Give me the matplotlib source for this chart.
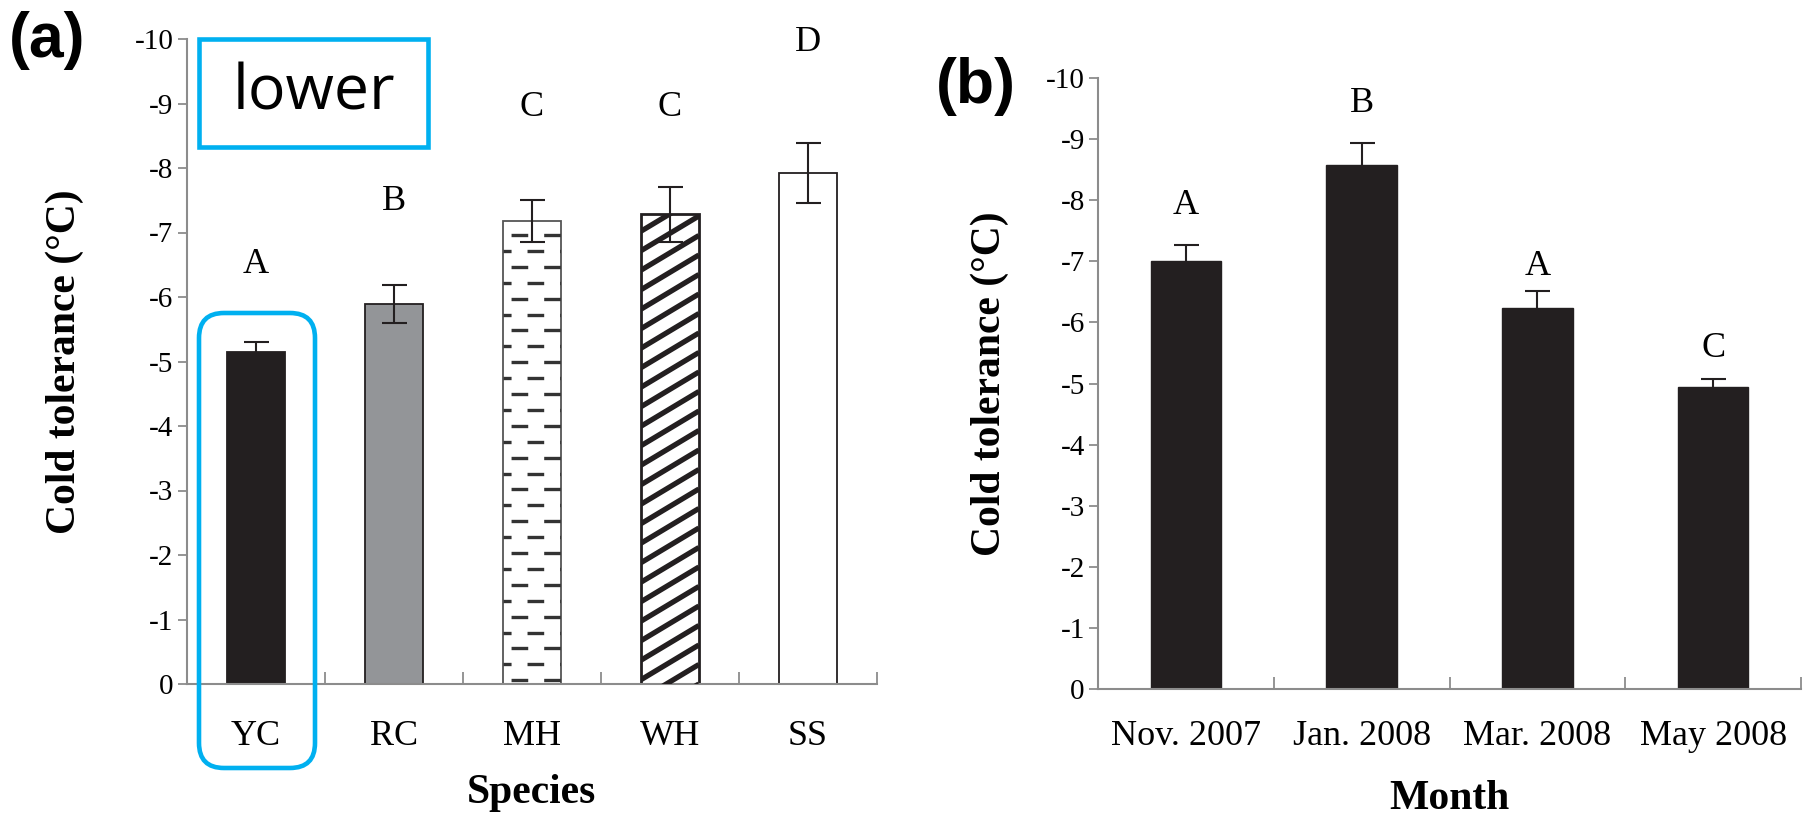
import numpy as np
import matplotlib
matplotlib.use("Agg")
import matplotlib.pyplot as plt
from matplotlib.patches import Rectangle, FancyBboxPatch

# (a) cold tolerance by species
species = ["YC", "RC", "MH", "WH", "SS"]
species_tol = [-5.15, -5.89, -7.18, -7.28, -7.92]
species_err = [0.16, 0.30, 0.33, 0.42, 0.46]
species_letters = ["A", "B", "C", "C", "D"]
species_letter_y = [-6.5, -7.48, -8.94, -8.94, -9.95]

# (b) cold tolerance by month
months = ["Nov. 2007", "Jan. 2008", "Mar. 2008", "May 2008"]
month_tol = [-7.0, -8.57, -6.23, -4.94]
month_err = [0.27, 0.36, 0.29, 0.14]
month_letters = ["A", "B", "A", "C"]
month_letter_y = [-7.92, -9.58, -6.91, -5.57]

W, H = 1816, 818
SERIF = "Liberation Serif"
DARK = "#231f20"
AXC = "#8c8c8c"
CYAN = "#00b0f0"

plt.rcParams["axes.unicode_minus"] = False
plt.rcParams["lines.scale_dashes"] = False

fig = plt.figure(figsize=(W / 100, H / 100), dpi=100)
ax_a = fig.add_axes([186.5 / W, 1 - 684 / H, 690.5 / W, 645 / H])
ax_b = fig.add_axes([1098 / W, 1 - 689 / H, 703 / W, 611 / H])


def style_axes(ax, labels, xlabel, xpad, xlab_y, ylab_x):
    n = len(labels)
    ax.set_xlim(-0.5, n - 0.5)
    ax.set_ylim(0, -10)
    yt = list(range(0, -11, -1))
    ax.set_yticks(yt)
    ax.set_yticklabels([str(t) for t in yt], fontsize=21, family=SERIF)
    ax.set_xticks(range(n))
    ax.set_xticklabels(labels, fontsize=26, family=SERIF)
    ax.set_xticks(np.arange(n + 1) - 0.5, minor=True)
    ax.tick_params(axis="x", which="major", length=0, pad=xpad)
    ax.tick_params(axis="x", which="minor", direction="in", length=9, width=1.3, color=AXC)
    ax.tick_params(axis="y", direction="out", length=6.5, width=1.3, color=AXC, pad=3)
    for s in ["top", "right"]:
        ax.spines[s].set_visible(False)
    for s in ["left", "bottom"]:
        ax.spines[s].set_color(AXC)
        ax.spines[s].set_linewidth(1.5)
    ax.set_xlabel(xlabel, fontsize=30, family=SERIF, weight="bold")
    ax.xaxis.set_label_coords(0.5, xlab_y)
    ax.xaxis.label.set_va("center")
    ax.set_ylabel("Cold tolerance (°C)", fontsize=30, family=SERIF, weight="bold")
    ax.yaxis.set_label_coords(ylab_x, 0.5)
    ax.yaxis.label.set_va("center")
    ax.yaxis.label.set_ha("center")


# ---- panel (a)
xa = np.arange(len(species))
faces = [DARK, "#939598", "white", "white", "white"]
edges = [DARK, DARK, "#555555", DARK, DARK]
bars = ax_a.bar(xa, species_tol, width=0.42, color=faces, edgecolor=edges, linewidth=1.3, zorder=2)

px_x = 690.5 / len(species)
px_y = 645 / 10

# MH: rows of short dashes
mh = bars[2]
x0, w = mh.get_x(), mh.get_width()
step = 15.9 / px_y
rows = np.arange(species_tol[2] + 0.22, -0.02, step)
for k, y in enumerate(rows):
    off = 17.7 if k % 2 == 0 else 6.2
    ln = ax_a.hlines(y, x0, x0 + w, colors="#333333", linewidth=2.4,
                     linestyles=[(off, (12, 11.5))], zorder=3)
    ln.set_clip_path(mh)

# WH: diagonal stripes
wh = bars[3]
x0, w = wh.get_x(), wh.get_width()
slope = 0.6 * px_x / px_y
gap = 19.5 / px_y
for c in np.arange(-slope * w, -species_tol[3] + gap, gap):
    ln, = ax_a.plot([x0, x0 + w], [-c, -(c + slope * w)], color=DARK, linewidth=3.8,
                    solid_capstyle="butt", zorder=3)
    ln.set_clip_path(wh)
wh.set_linewidth(2)

ax_a.errorbar(xa, species_tol, yerr=species_err, fmt="none", ecolor=DARK,
              elinewidth=1.5, capsize=9, capthick=1.5, zorder=4)
for i, (t, y) in enumerate(zip(species_letters, species_letter_y)):
    ax_a.text(i, y, t, ha="center", va="center", fontsize=26, family=SERIF)

style_axes(ax_a, species, "Species", 26, -0.169, -0.176)

# ---- panel (b)
xb = np.arange(len(months))
ax_b.bar(xb, month_tol, width=0.4, color=DARK, edgecolor=DARK, linewidth=1, zorder=2)
ax_b.errorbar(xb, month_tol, yerr=month_err, fmt="none", ecolor=DARK,
              elinewidth=1.5, capsize=9, capthick=1.5, zorder=4)
for i, (t, y) in enumerate(zip(month_letters, month_letter_y)):
    ax_b.text(i, y, t, ha="center", va="center", fontsize=26, family=SERIF)

style_axes(ax_b, months, "Month", 22, -0.18, -0.154)

# panel tags
fig.text(9 / W, 1 - 40 / H, "(a)", ha="left", va="center", fontsize=45,
         weight="bold", family="Liberation Sans")
fig.text(936 / W, 1 - 87 / H, "(b)", ha="left", va="center", fontsize=45,
         weight="bold", family="Liberation Sans")

# highlight boxes
fig.add_artist(Rectangle((199 / W, 1 - 147 / H), 229 / W, 108 / H, transform=fig.transFigure,
                         fill=False, edgecolor=CYAN, linewidth=3.3))
fig.text(313.5 / W, 1 - 93 / H, "lower", ha="center", va="center", fontsize=45,
         family="Open Sans")
fig.add_artist(FancyBboxPatch((199 / W, 1 - 768 / H), 116 / W, 455 / H,
                              boxstyle="round,pad=0,rounding_size=%f" % (25 / W),
                              mutation_aspect=W / H, transform=fig.transFigure,
                              fill=False, edgecolor=CYAN, linewidth=3.3))

fig.savefig("out.png", dpi=100)
